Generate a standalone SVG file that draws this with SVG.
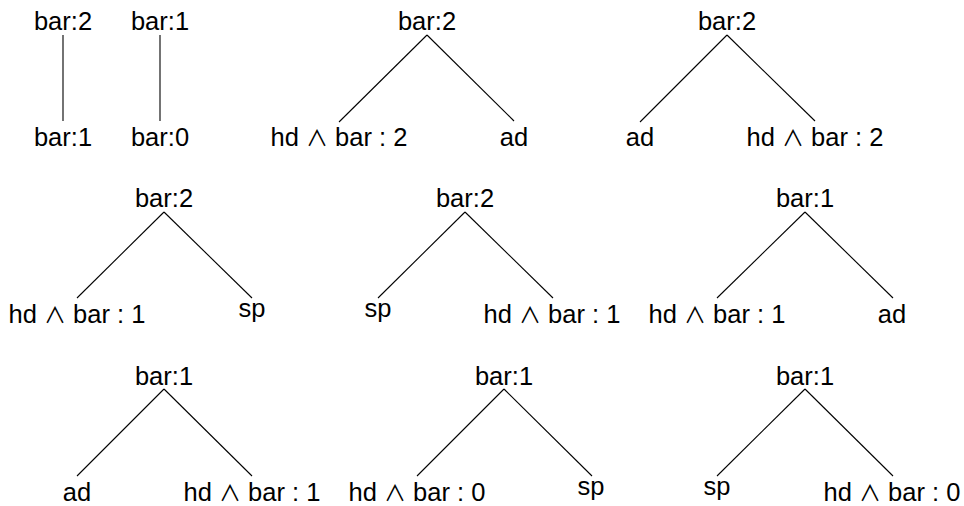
<svg xmlns="http://www.w3.org/2000/svg" width="964" height="506" viewBox="0 0 964 506">
<style>
text{font-family:"Liberation Sans","DejaVu Sans",sans-serif;font-size:25.5px;fill:#000;text-anchor:middle}
.w{font-family:"Noto Sans CJK JP","DejaVu Sans",sans-serif;font-size:22px}
line{stroke:#000;stroke-width:1.1}
</style>
<rect width="964" height="506" fill="#fff"/>
<g id="connectors">
<line x1="63" y1="35" x2="63" y2="121"/>
<line x1="160" y1="35" x2="160" y2="121"/>
<line x1="427" y1="35" x2="339" y2="122"/>
<line x1="427" y1="35" x2="514" y2="121"/>
<line x1="727" y1="35" x2="640" y2="122"/>
<line x1="727" y1="35" x2="815" y2="121"/>
<line x1="164" y1="212" x2="77" y2="298"/>
<line x1="164" y1="212" x2="252" y2="298"/>
<line x1="465" y1="212" x2="378" y2="298"/>
<line x1="465" y1="212" x2="553" y2="298"/>
<line x1="805" y1="212" x2="717" y2="298"/>
<line x1="805" y1="212" x2="893" y2="298"/>
<line x1="164" y1="389" x2="77" y2="476"/>
<line x1="164" y1="389" x2="252" y2="476"/>
<line x1="504" y1="389" x2="417" y2="476"/>
<line x1="504" y1="389" x2="592" y2="476"/>
<line x1="805" y1="389" x2="717" y2="476"/>
<line x1="805" y1="389" x2="893" y2="476"/>
</g>
<g id="t1-root"><text x="63" y="30">bar:2</text></g>
<g id="t1-child"><text x="63" y="146">bar:1</text></g>
<g id="t2-root"><text x="160" y="30">bar:1</text></g>
<g id="t2-child"><text x="160" y="146">bar:0</text></g>
<g id="t3-root"><text x="427" y="30">bar:2</text></g>
<g id="t3-left"><text x="339" y="146">hd <tspan class="w">∧</tspan> bar : 2</text></g>
<g id="t3-right"><text x="514" y="146">ad</text></g>
<g id="t4-root"><text x="727" y="30">bar:2</text></g>
<g id="t4-left"><text x="640" y="146">ad</text></g>
<g id="t4-right"><text x="815" y="146">hd <tspan class="w">∧</tspan> bar : 2</text></g>
<g id="t5-root"><text x="164" y="207">bar:2</text></g>
<g id="t5-left"><text x="77" y="323">hd <tspan class="w">∧</tspan> bar : 1</text></g>
<g id="t5-right"><text x="252" y="317">sp</text></g>
<g id="t6-root"><text x="465" y="207">bar:2</text></g>
<g id="t6-left"><text x="378" y="317">sp</text></g>
<g id="t6-right"><text x="552" y="323">hd <tspan class="w">∧</tspan> bar : 1</text></g>
<g id="t7-root"><text x="805" y="207">bar:1</text></g>
<g id="t7-left"><text x="717" y="323">hd <tspan class="w">∧</tspan> bar : 1</text></g>
<g id="t7-right"><text x="892" y="323">ad</text></g>
<g id="t8-root"><text x="164" y="385">bar:1</text></g>
<g id="t8-left"><text x="77" y="501">ad</text></g>
<g id="t8-right"><text x="252" y="501">hd <tspan class="w">∧</tspan> bar : 1</text></g>
<g id="t9-root"><text x="504" y="385">bar:1</text></g>
<g id="t9-left"><text x="417" y="501">hd <tspan class="w">∧</tspan> bar : 0</text></g>
<g id="t9-right"><text x="591" y="495">sp</text></g>
<g id="t10-root"><text x="805" y="385">bar:1</text></g>
<g id="t10-left"><text x="717" y="495">sp</text></g>
<g id="t10-right"><text x="892" y="501">hd <tspan class="w">∧</tspan> bar : 0</text></g>
</svg>
